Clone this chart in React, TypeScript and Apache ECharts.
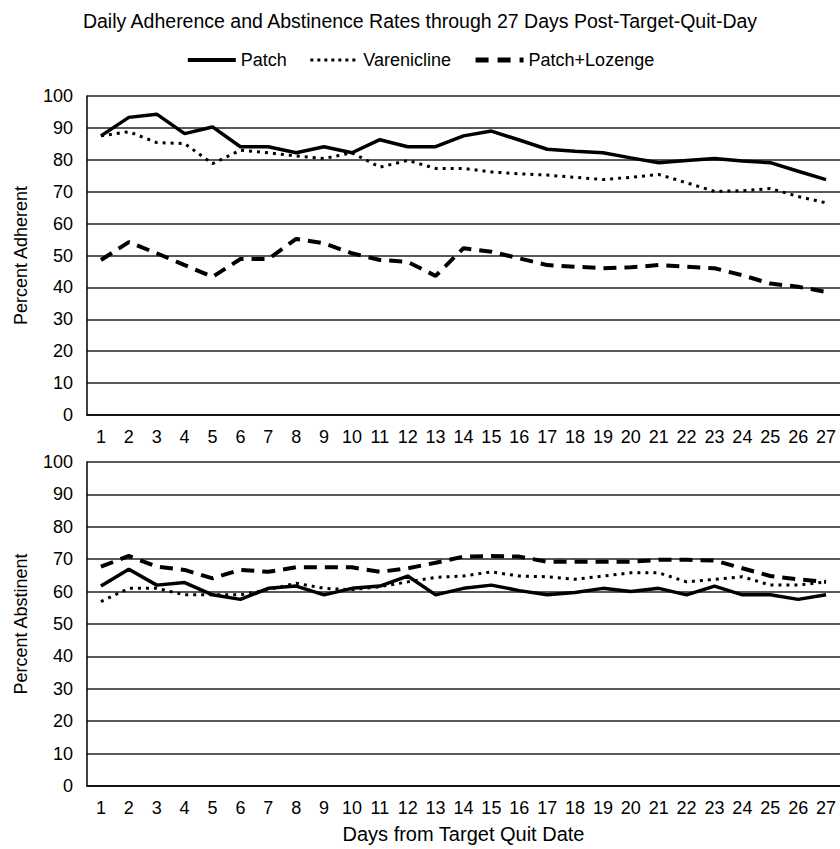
import React, { useEffect, useRef } from "react";
import * as echarts from "echarts";

const days = Array.from({ length: 27 }, (_, i) => String(i + 1));

const adherencePatch = [87.5, 93.3, 94.3, 88.2, 90.3, 84.1, 84.1, 82.2, 84.1, 82.2, 86.3, 84.1, 84.1, 87.5, 89, 86.2, 83.3, 82.7, 82.2, 80.6, 79.1, 79.8, 80.4, 79.6, 79.1, 76.4, 73.8];
const adherenceVarenicline = [87.5, 88.8, 85.4, 85.1, 78.8, 83, 82.2, 81.2, 80.4, 82.2, 77.7, 79.8, 77.3, 77.3, 76.2, 75.6, 75.2, 74.5, 73.8, 74.5, 75.4, 72.8, 70.1, 70.3, 71, 68.5, 66.5];
const adherenceLozenge = [48.6, 54.2, 50.7, 47, 43.3, 48.9, 48.9, 55.2, 53.8, 50.7, 48.6, 48, 43.6, 52.3, 51.2, 49.1, 47, 46.5, 46, 46.3, 47, 46.5, 46, 43.8, 41.2, 40.2, 38.6];

const abstinencePatch = [61.7, 66.9, 62, 62.8, 59, 57.6, 61, 61.7, 59, 61, 61.7, 64.8, 59, 61, 62, 60.3, 59, 59.7, 61, 60, 61, 59, 61.7, 59, 59, 57.6, 59];
const abstinenceVarenicline = [56.9, 61, 61, 59, 59, 59, 60.6, 62.6, 61, 60.6, 61.5, 63, 64.4, 64.8, 66.1, 64.8, 64.6, 63.8, 64.8, 65.8, 65.8, 63, 63.8, 64.6, 62, 62, 63];
const abstinenceLozenge = [67.7, 71, 67.7, 66.7, 64.1, 66.7, 66.1, 67.5, 67.5, 67.5, 66.1, 67.2, 68.9, 70.8, 71, 70.8, 69.2, 69.2, 69.2, 69.2, 69.8, 69.8, 69.6, 67.2, 64.8, 63.8, 63];

const seriesNames = ["Patch", "Varenicline", "Patch+Lozenge"];
const titleText = "Daily Adherence and Abstinence Rates through 27 Days Post-Target-Quit-Day";
const yNames = ["Percent Adherent", "Percent Abstinent"];
const xName = "Days from Target Quit Date";

const FONT = "Liberation Sans, Arial, sans-serif";

export default function App() {
  const ref = useRef<HTMLDivElement>(null);
  useEffect(() => {
    if (!ref.current) return;
    const chart = echarts.init(ref.current, undefined, { renderer: "svg" });
    const styles: any[] = [
      { color: "#000", width: 3.5, type: "solid" },
      { color: "#000", width: 3, type: [3, 5] },
      { color: "#000", width: 4, type: [13, 8] },
    ];
    const legendStyles: any[] = [
      { color: "#000", width: 4, type: "solid" },
      { color: "#000", width: 3, type: [3, 4] },
      { color: "#000", width: 5, type: [13, 9] },
    ];
    const mkSeries = (data: number[], idx: number, g: number) => ({
      name: seriesNames[idx],
      type: "line",
      xAxisIndex: g,
      yAxisIndex: g,
      data,
      symbol: "none",
      showSymbol: false,
      lineStyle: styles[idx],
      itemStyle: { color: "#000" },
      z: 3,
    });
    const xAxisBase = (g: number) => ({
      type: "category",
      gridIndex: g,
      data: days,
      boundaryGap: true,
      axisTick: { show: false },
      axisLine: { show: true, lineStyle: { color: "#000", width: 1.5 } },
      axisLabel: { color: "#000", fontSize: 18, fontFamily: FONT, margin: 13, interval: 0 },
      ...(g === 1
        ? {
            name: xName,
            nameLocation: "middle",
            nameGap: 38,
            nameTextStyle: { color: "#000", fontSize: 20, fontFamily: FONT },
          }
        : {}),
    });
    const yAxisBase = (g: number) => ({
      type: "value",
      gridIndex: g,
      min: 0,
      max: 100,
      interval: 10,
      name: yNames[g],
      nameLocation: "middle",
      nameGap: 57,
      nameTextStyle: { color: "#000", fontSize: 18, fontFamily: FONT },
      axisLine: { show: true, lineStyle: { color: "#000", width: 1.5 } },
      axisTick: { show: false },
      axisLabel: { color: "#000", fontSize: 18, fontFamily: FONT, margin: 14 },
      splitLine: { show: true, lineStyle: { color: "#222", width: 1.5 } },
    });
    chart.setOption({
      animation: false,
      backgroundColor: "#fff",
      title: {
        text: titleText,
        left: "center",
        top: 6,
        textStyle: { color: "#000", fontSize: 19.5, fontWeight: "normal", fontFamily: FONT },
      },
      legend: {
        top: 46,
        left: "center",
        itemWidth: 48,
        itemHeight: 16,
        itemGap: 22,
        itemStyle: { opacity: 0 },
        textStyle: { color: "#000", fontSize: 18, fontFamily: FONT },
        data: seriesNames.map((n, i) => ({ name: n, lineStyle: legendStyles[i] })),
      },
      grid: [
        { left: 87, top: 96, width: 760, height: 319 },
        { left: 87, top: 462, width: 760, height: 324 },
      ],
      xAxis: [xAxisBase(0), xAxisBase(1)],
      yAxis: [yAxisBase(0), yAxisBase(1)],
      series: [
        mkSeries(adherencePatch, 0, 0),
        mkSeries(adherenceVarenicline, 1, 0),
        mkSeries(adherenceLozenge, 2, 0),
        mkSeries(abstinencePatch, 0, 1),
        mkSeries(abstinenceVarenicline, 1, 1),
        mkSeries(abstinenceLozenge, 2, 1),
      ],
    });
    return () => chart.dispose();
  }, []);
  return (
    <div
      ref={ref}
      style={{ position: "fixed", left: 0, top: 0, width: 840, height: 849, background: "#fff" }}
    />
  );
}
